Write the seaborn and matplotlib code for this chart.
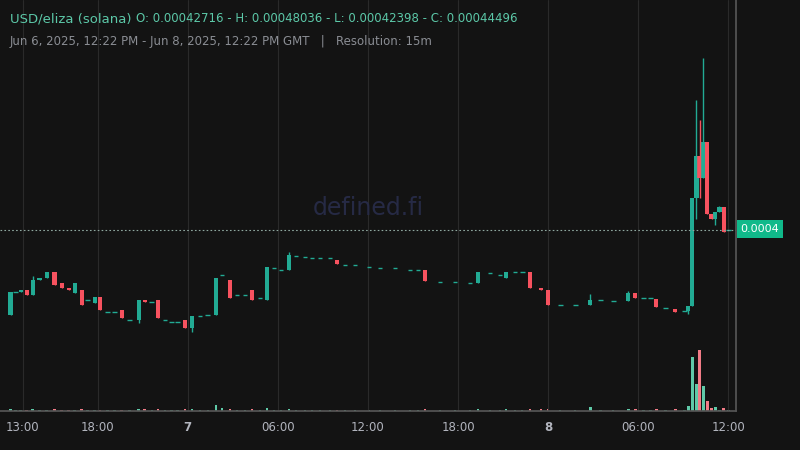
import matplotlib
matplotlib.use("Agg")
import matplotlib.pyplot as plt
import seaborn as sns
import numpy as np

# hours since Jun 6 2025 00:00 GMT
hours = [12.2,12.53,12.87,13.27,13.67,14.13,14.6,15.13,15.6,16.07,16.47,16.93,17.33,17.8,18.13,18.67,19.13,19.6,20.13,20.73,
         21.13,21.6,22.0,22.47,22.93,23.33,23.8,24.27,24.8,25.33,25.87,26.27,26.8,27.27,27.8,28.27,28.8,29.27,29.73,30.2,
         30.73,31.2,31.8,32.27,32.8,33.47,33.93,34.47,35.13,36.07,36.8,37.8,38.8,39.33,39.8,40.8,41.8,42.8,43.33,44.13,
         44.8,45.2,45.8,46.27,46.8,47.53,48.0,48.8,49.8,50.8,51.47,52.33,53.33,53.8,54.33,54.8,55.2,55.8,56.47,57.07,
         57.33,57.6,57.87,58.07,58.33,58.6,58.87,59.13,59.4,59.67,60.0]
# prices in units of 1e-6 USD
opens = [359.6,370.4,370.4,371.3,369.0,376.0,377.0,379.8,374.6,372.3,369.9,371.3,366.6,365.2,368.0,361.0,361.0,361.9,357.2,357.2,
         366.6,365.7,366.6,357.2,356.3,356.3,357.2,353.5,359.1,359.6,359.6,378.4,376.0,369.0,369.0,371.3,367.6,366.6,381.7,380.7,
         380.7,387.3,386.8,386.4,386.4,386.4,385.4,383.1,383.1,382.1,381.7,381.7,380.7,380.7,380.7,375.1,375.1,374.6,374.6,379.3,
         378.4,377.0,379.8,379.8,379.8,372.3,371.3,364.3,364.3,364.3,366.6,366.2,366.2,369.9,367.6,367.6,367.1,362.9,362.4,361.5,
         361.5,363.8,414.6,434.3,424.0,440.9,407.1,404.7,408.0,410.3,399.5]
closes = [370.4,370.4,371.3,369.0,376.0,377.0,379.8,373.7,372.3,371.3,374.6,364.3,366.6,368.0,361.9,361.0,361.0,358.2,357.2,366.6,
          365.7,365.7,358.2,357.2,356.3,356.3,353.5,359.1,359.1,359.6,377.0,378.4,367.6,369.0,369.0,366.6,367.6,382.1,381.7,380.7,
          387.8,387.3,386.8,386.4,386.4,386.4,383.6,383.1,383.1,382.1,381.7,381.7,380.7,380.7,375.6,375.1,375.1,374.6,379.8,379.3,
          378.4,379.8,379.8,379.8,372.3,371.3,364.3,364.3,364.3,366.6,366.6,366.2,369.9,367.6,367.6,367.6,363.3,362.9,361.0,361.5,
          363.8,414.6,434.3,424.0,440.9,407.1,404.7,408.0,410.3,398.6,399.5]
wick_high = {4: 378.0, 40: 389.0, 69: 369.5, 72: 371.0, 82: 460.6, 83: 451.2, 84: 480.4, 88: 411.0}
wick_low = {19: 356.0, 27: 351.5, 80: 360.0, 82: 404.7, 83: 414.6, 87: 402.0}
volumes = [2,1,1,1,2,1,1,2,1,1,1,2,1,1,1,1,1,1,1,2,
           2,1,2,1,1,1,2,2,1,1,6,3,2,1,1,2,1,3,1,1,
           2,1,1,1,1,1,1,1,1,1,1,1,1,1,2,1,1,1,2,1,
           1,2,1,1,2,2,2,1,1,4,1,1,2,2,1,1,2,1,2,1,
           5,53,26,59,24,10,3,4,1,3,1]
tick_pos = [13, 18, 24, 30, 36, 42, 48, 54, 60]
tick_labels = ["13:00", "18:00", "7", "06:00", "12:00", "18:00", "8", "06:00", "12:00"]

sns.set_theme(style="dark")
BG = "#131313"
GREEN = "#22ab94"
RED = "#f7525f"
fig = plt.figure(figsize=(8, 4.5), dpi=100, facecolor=BG)
ax = fig.add_axes([0, 39/450, 736/800, 411/450])
ax.set_facecolor(BG)
vax = ax.twinx()
vax.set_ylim(0, 400)
vax.axis("off")
ax.set_zorder(vax.get_zorder() + 1)
ax.patch.set_visible(False)
vax.patch.set_facecolor(BG)

t = np.array(hours); o = np.array(opens) * 1e-6; c = np.array(closes) * 1e-6
for i in range(len(t)):
    up = c[i] >= o[i]
    col = GREEN if up else RED
    hi = wick_high.get(i, max(opens[i], closes[i])) * 1e-6
    lo = wick_low.get(i, min(opens[i], closes[i])) * 1e-6
    ax.vlines(t[i], lo, hi, color=col, lw=1)
    h = abs(c[i] - o[i])
    if h < 2e-7:
        ax.hlines(o[i], t[i] - 0.15, t[i] + 0.15, color=col, lw=1)
    else:
        ax.bar(t[i], h, bottom=min(o[i], c[i]), width=0.27, color=col, lw=0)
    vax.bar(t[i], volumes[i], width=0.16, color=("#5fc9a8" if up else "#f27c87"), lw=0)

ax.set_xlim(11.5, 60.5)
ax.set_ylim(0.0003145, 0.0005076)
ax.set_xticks(tick_pos)
ax.set_xticklabels(tick_labels)
for lbl in ax.get_xticklabels():
    lbl.set_color("#b2b5be"); lbl.set_fontsize(8.5)
    if lbl.get_text() in ("7", "8"):
        lbl.set_fontweight("bold")
ax.tick_params(axis="x", length=0, pad=7)
ax.set_yticks([])
for x in tick_pos:
    ax.axvline(x, color="#2a2a2a", lw=0.8, zorder=0)
for s in ["top", "left"]:
    ax.spines[s].set_visible(False)
ax.spines["bottom"].set_color("#555555")
ax.spines["right"].set_color("#555555")
for sp in vax.spines.values():
    sp.set_visible(False)

last = c[-1]
ax.axhline(last, color="#8fa8a0", lw=0.8, ls=(0, (1.5, 2)))
fig.text(760/800, 1 - 229/450, "0.0004", color="white", fontsize=8, ha="center", va="center",
         bbox=dict(boxstyle="square,pad=0.35", fc="#10b98a", ec="none"))

ax.text(0.5, 0.495, "defined.fi", transform=ax.transAxes, color="#262a45", fontsize=17, ha="center", va="center")

fig.text(10/800, 1 - 19/450, "USD/eliza (solana)", color="#5cc8a8", fontsize=9.5, va="center")
fig.text(136/800, 1 - 19/450, "O: 0.00042716 - H: 0.00048036 - L: 0.00042398 - C: 0.00044496",
         color="#5cc8a8", fontsize=8.5, va="center")
fig.text(10/800, 1 - 41/450, "Jun 6, 2025, 12:22 PM - Jun 8, 2025, 12:22 PM GMT   |   Resolution: 15m",
         color="#8a8d93", fontsize=8.5, va="center")

fig.savefig("out.png", facecolor=BG)
